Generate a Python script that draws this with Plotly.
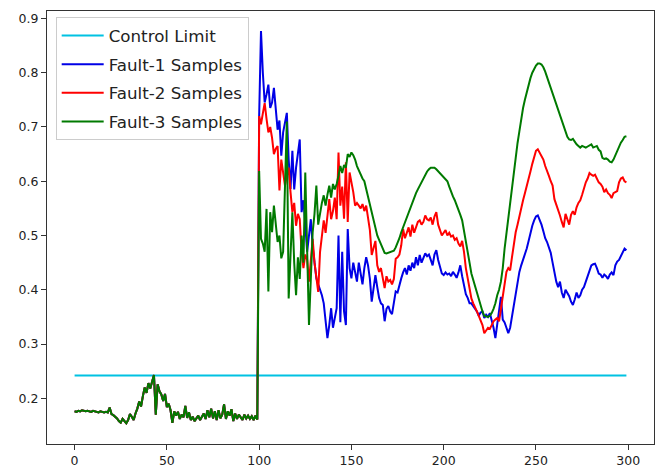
import plotly.graph_objects as go

# Shared in-control samples (0-99), identical for all three fault runs
normal = [0.176, 0.175, 0.177, 0.176, 0.178, 0.177, 0.176, 0.177, 0.176, 0.175,
          0.177, 0.176, 0.175, 0.174, 0.176, 0.175, 0.174, 0.175, 0.174, 0.183,
          0.171, 0.169, 0.166, 0.163, 0.158, 0.155, 0.162, 0.158, 0.154, 0.160,
          0.171, 0.166, 0.160, 0.172, 0.181, 0.194, 0.185, 0.204, 0.220, 0.210,
          0.228, 0.218, 0.232, 0.243, 0.170, 0.226, 0.213, 0.207, 0.195, 0.208,
          0.184, 0.190, 0.178, 0.155, 0.176, 0.168, 0.175, 0.162, 0.170, 0.165,
          0.186, 0.164, 0.174, 0.160, 0.166, 0.158, 0.163, 0.168, 0.160, 0.166,
          0.172, 0.162, 0.178, 0.165, 0.181, 0.163, 0.176, 0.160, 0.178, 0.163,
          0.170, 0.189, 0.162, 0.176, 0.168, 0.180, 0.158, 0.172, 0.162, 0.170,
          0.165, 0.160, 0.170, 0.163, 0.168, 0.162, 0.167, 0.160, 0.168, 0.161]

# Fault samples 100-299
fault1 = [0.720, 0.877, 0.800, 0.745, 0.760, 0.778, 0.735, 0.745, 0.772, 0.735,
          0.695, 0.712, 0.647, 0.690, 0.705, 0.726, 0.640, 0.586, 0.656, 0.585,
          0.625, 0.655, 0.677, 0.543, 0.565, 0.520, 0.470, 0.500, 0.530, 0.480,
          0.445, 0.421, 0.410, 0.400, 0.390, 0.375, 0.348, 0.311, 0.335, 0.366,
          0.330, 0.345, 0.366, 0.500, 0.340, 0.470, 0.360, 0.335, 0.512, 0.440,
          0.421, 0.450, 0.430, 0.415, 0.450, 0.425, 0.410, 0.440, 0.460, 0.445,
          0.420, 0.378, 0.400, 0.427, 0.405, 0.385, 0.375, 0.372, 0.342, 0.365,
          0.370, 0.360, 0.355, 0.380, 0.397, 0.395, 0.410, 0.421, 0.432, 0.440,
          0.428, 0.445, 0.435, 0.450, 0.440, 0.460, 0.445, 0.464, 0.450, 0.460,
          0.467, 0.462, 0.465, 0.455, 0.445, 0.465, 0.473, 0.455, 0.440, 0.430,
          0.427, 0.432, 0.428, 0.430, 0.425, 0.433, 0.428, 0.422, 0.432, 0.445,
          0.425, 0.410, 0.392, 0.385, 0.375, 0.375, 0.370, 0.363, 0.360, 0.352,
          0.358, 0.360, 0.348, 0.354, 0.350, 0.357, 0.345, 0.330, 0.311, 0.340,
          0.360, 0.387, 0.345, 0.340, 0.330, 0.320, 0.330, 0.350, 0.378, 0.395,
          0.415, 0.433, 0.445, 0.455, 0.465, 0.476, 0.490, 0.505, 0.518, 0.528,
          0.535, 0.537, 0.530, 0.520, 0.508, 0.495, 0.488, 0.478, 0.468, 0.450,
          0.430, 0.415, 0.405, 0.415, 0.395, 0.385, 0.400, 0.395, 0.388, 0.378,
          0.372, 0.382, 0.395, 0.385, 0.390, 0.400, 0.405, 0.415, 0.425, 0.438,
          0.445, 0.447, 0.448, 0.440, 0.430, 0.428, 0.422, 0.428, 0.425, 0.420,
          0.428, 0.432, 0.427, 0.445, 0.452, 0.455, 0.462, 0.470, 0.476, 0.473]

fault2 = [0.720, 0.705, 0.725, 0.744, 0.715, 0.690, 0.700, 0.680, 0.650, 0.660,
          0.665, 0.583, 0.640, 0.620, 0.592, 0.610, 0.625, 0.580, 0.543, 0.560,
          0.518, 0.540, 0.530, 0.470, 0.440, 0.465, 0.455, 0.415, 0.460, 0.494,
          0.450, 0.420, 0.396, 0.470, 0.500, 0.528, 0.505, 0.540, 0.567, 0.530,
          0.545, 0.570, 0.530, 0.653, 0.555, 0.590, 0.531, 0.635, 0.525, 0.616,
          0.600, 0.580, 0.555, 0.560, 0.555, 0.550, 0.558, 0.545, 0.555, 0.530,
          0.510, 0.464, 0.480, 0.490, 0.445, 0.433, 0.440, 0.420, 0.403, 0.425,
          0.415, 0.418, 0.410, 0.420, 0.457, 0.460, 0.465, 0.482, 0.512, 0.495,
          0.505, 0.515, 0.498, 0.520, 0.505, 0.515, 0.525, 0.528, 0.520, 0.525,
          0.537, 0.530, 0.528, 0.533, 0.520, 0.535, 0.543, 0.520, 0.510, 0.500,
          0.505, 0.510, 0.500, 0.505, 0.498, 0.500, 0.492, 0.495, 0.485, 0.480,
          0.490, 0.470, 0.440, 0.420, 0.400, 0.384, 0.375, 0.366, 0.360, 0.352,
          0.345, 0.335, 0.320, 0.325, 0.330, 0.328, 0.335, 0.342, 0.345, 0.348,
          0.342, 0.366, 0.385, 0.410, 0.433, 0.440, 0.436, 0.460, 0.485, 0.506,
          0.520, 0.537, 0.550, 0.565, 0.578, 0.590, 0.605, 0.618, 0.632, 0.645,
          0.656, 0.659, 0.652, 0.648, 0.640, 0.628, 0.620, 0.610, 0.600, 0.592,
          0.567, 0.558, 0.548, 0.537, 0.525, 0.515, 0.540, 0.530, 0.520, 0.538,
          0.545, 0.538, 0.552, 0.560, 0.565, 0.575, 0.588, 0.598, 0.605, 0.615,
          0.612, 0.610, 0.612, 0.605, 0.598, 0.595, 0.590, 0.580, 0.585, 0.578,
          0.575, 0.569, 0.578, 0.580, 0.582, 0.598, 0.605, 0.607, 0.600, 0.598]

fault3 = [0.619, 0.494, 0.485, 0.470, 0.549, 0.397, 0.543, 0.506, 0.555, 0.525,
          0.488, 0.500, 0.458, 0.470, 0.600, 0.710, 0.384, 0.470, 0.543, 0.450,
          0.390, 0.460, 0.420, 0.500, 0.450, 0.616, 0.480, 0.335, 0.420, 0.506,
          0.540, 0.592, 0.520, 0.545, 0.560, 0.574, 0.555, 0.575, 0.592, 0.570,
          0.595, 0.585, 0.595, 0.610, 0.628, 0.615, 0.630, 0.625, 0.650, 0.645,
          0.653, 0.648, 0.640, 0.628, 0.620, 0.615, 0.605, 0.600, 0.585, 0.575,
          0.560, 0.545, 0.530, 0.515, 0.500, 0.492, 0.485, 0.475, 0.468, 0.467,
          0.468, 0.470, 0.470, 0.472, 0.478, 0.485, 0.495, 0.506, 0.515, 0.525,
          0.535, 0.543, 0.552, 0.560, 0.570, 0.578, 0.585, 0.592, 0.598, 0.605,
          0.612, 0.618, 0.622, 0.625, 0.625, 0.625, 0.622, 0.618, 0.614, 0.610,
          0.606, 0.603, 0.600, 0.590, 0.580, 0.572, 0.565, 0.557, 0.549, 0.538,
          0.528, 0.510, 0.490, 0.468, 0.450, 0.430, 0.418, 0.409, 0.395, 0.383,
          0.370, 0.360, 0.352, 0.351, 0.350, 0.352, 0.357, 0.365, 0.375, 0.390,
          0.400, 0.415, 0.440, 0.476, 0.505, 0.537, 0.562, 0.590, 0.615, 0.645,
          0.670, 0.692, 0.718, 0.735, 0.750, 0.765, 0.780, 0.790, 0.800, 0.808,
          0.813, 0.817, 0.817, 0.815, 0.810, 0.802, 0.792, 0.782, 0.770, 0.760,
          0.750, 0.740, 0.730, 0.718, 0.708, 0.700, 0.692, 0.682, 0.677, 0.676,
          0.678, 0.672, 0.668, 0.665, 0.662, 0.665, 0.663, 0.662, 0.664, 0.666,
          0.668, 0.662, 0.664, 0.665, 0.658, 0.655, 0.643, 0.641, 0.642, 0.640,
          0.636, 0.635, 0.640, 0.648, 0.655, 0.665, 0.671, 0.676, 0.682, 0.683]

control_limit = 0.242
series_names = ["Control Limit", "Fault-1 Samples", "Fault-2 Samples", "Fault-3 Samples"]
series_colors = ["#00c2e2", "#0000e6", "#ff0000", "#007a00"]
x_ticks = [0, 50, 100, 150, 200, 250, 300]
y_ticks = [0.2, 0.3, 0.4, 0.5, 0.6, 0.7, 0.8, 0.9]

n = len(normal) + len(fault1)
x = list(range(n))
ys = [[control_limit] * n, normal + fault1, normal + fault2, normal + fault3]

fig = go.Figure()
for k, (name, color, y) in enumerate(zip(series_names, series_colors, ys)):
    fig.add_trace(go.Scatter(x=x, y=y, mode="lines", name=name, legendgroup=f"g{k}",
                             line=dict(color=color, width=2)))

axis_common = dict(showline=True, mirror=True, linecolor="#333333", linewidth=1,
                   ticks="outside", ticklen=5, tickwidth=1, tickcolor="#333333",
                   showgrid=False, zeroline=False,
                   tickfont=dict(family="DejaVu Sans", size=12.5, color="#222222"))

fig.update_layout(
    width=661, height=474,
    margin=dict(l=47, r=6, t=11, b=27),
    paper_bgcolor="white", plot_bgcolor="white",
    font=dict(family="DejaVu Sans", color="#222222"),
    xaxis=dict(range=[-14.95, 313.95], tickvals=x_ticks, **axis_common),
    yaxis=dict(range=[0.1158, 0.9137], tickvals=y_ticks, **axis_common),
    legend=dict(x=0.0143, y=0.986, xanchor="left", yanchor="top",
                bgcolor="rgba(255,255,255,0.85)", bordercolor="#cccccc", borderwidth=1,
                tracegroupgap=4, itemwidth=42,
                font=dict(family="DejaVu Sans", size=16.7, color="#222222")),
    showlegend=True,
)

fig.write_html("out.html")
